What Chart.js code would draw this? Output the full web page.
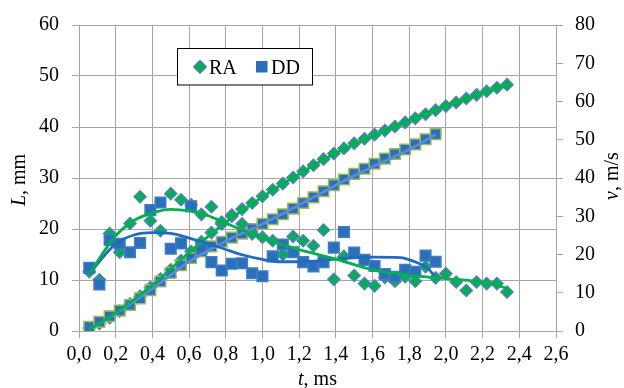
<!DOCTYPE html>
<html>
<head>
<meta charset="utf-8">
<script src="https://cdn.jsdelivr.net/npm/chart.js@4.4.1/dist/chart.umd.min.js"></script>
<style>
html,body{margin:0;padding:0;background:#fff}
#wrap{width:624px;height:388px;position:relative}
</style>
</head>
<body>
<div id="wrap"><canvas id="chartCanvas"></canvas></div>
<script>
// time stamps, ms
const tRA = [0.056,0.111,0.167,0.222,0.278,0.333,0.389,0.444,0.500,0.556,0.611,0.667,0.722,0.778,0.833,0.889,0.944,1.000,1.056,1.111,1.167,1.222,1.278,1.333,1.389,1.444,1.500,1.556,1.611,1.667,1.722,1.778,1.833,1.889,1.944,2.000,2.056,2.111,2.167,2.222,2.278,2.333];
const tDD = [0.056,0.111,0.167,0.222,0.278,0.333,0.389,0.444,0.500,0.556,0.611,0.667,0.722,0.778,0.833,0.889,0.944,1.000,1.056,1.111,1.167,1.222,1.278,1.333,1.389,1.444,1.500,1.556,1.611,1.667,1.722,1.778,1.833,1.889,1.944];

// L, mm
const lenRA = [0.6,1.5,2.6,3.9,5.3,6.8,8.5,10.2,12.0,13.8,15.6,17.5,19.3,21.0,22.5,23.9,25.1,26.4,27.7,28.9,30.1,31.3,32.5,33.7,34.8,35.8,36.8,37.7,38.5,39.3,40.1,40.9,41.7,42.5,43.3,44.1,44.8,45.6,46.3,47.0,47.7,48.3];
const lenDD = [0.8,1.8,2.9,4.0,5.1,6.4,8.0,9.7,11.4,12.9,14.3,15.6,16.6,17.5,18.3,19.1,20.0,21.0,21.9,22.9,24.0,25.1,26.2,27.4,28.6,29.7,30.8,31.8,32.8,33.8,34.7,35.6,36.6,37.6,38.6];

// v, m/s
const velRA = [15.5,13.4,25.5,20.6,28.1,35.1,28.8,26.2,35.9,34.3,33.0,30.5,32.5,28.5,30.3,28.0,25.4,24.5,23.6,20.0,24.7,23.6,22.3,26.4,13.5,19.5,14.5,12.4,11.8,14.0,13.0,14.2,13.0,16.8,13.9,15.0,12.8,10.6,12.8,12.4,12.4,10.2];
const velDD = [16.5,12.2,23.8,22.8,20.6,23.0,31.6,33.6,21.5,22.9,32.6,21.5,18.0,15.8,17.6,17.7,15.1,14.3,19.5,22.6,20.6,18.0,16.9,18.0,21.8,25.9,20.5,18.6,17.0,14.9,14.2,16.0,15.5,19.7,18.1];

// trend lines
const trendLenRA_t = [0.056,0.2,0.4,0.6,0.8,1.0,1.2,1.4,1.6,1.8,2.0,2.2,2.333];
const trendLenRA = [0.3,3.6,9.0,15.4,21.3,26.3,30.8,34.9,38.2,41.3,44.2,46.6,48.2];
const trendLenDD_t = [0.056,0.2,0.4,0.6,0.8,1.0,1.2,1.4,1.6,1.8,1.944];
const trendLenDD = [0.3,3.4,8.3,13.6,17.6,21.0,24.7,28.6,32.2,35.6,38.5];
const trendVelRA_t = [0.056,0.2,0.3,0.4,0.5,0.6,0.7,0.8,0.9,1.0,1.1,1.2,1.4,1.6,1.8,2.0,2.2,2.333];
const trendVelRA = [15.0,24.9,28.9,30.9,31.8,31.4,30.2,28.2,26.2,24.3,22.7,21.3,18.8,16.0,14.6,13.7,12.8,11.2];
const trendVelDD_t = [0.056,0.2,0.3,0.4,0.5,0.6,0.7,0.8,0.9,1.0,1.1,1.2,1.4,1.6,1.75,1.83,1.9,1.944];
const trendVelDD = [15.0,22.8,25.1,25.7,25.5,24.3,22.9,21.3,19.8,18.7,18.1,18.1,18.8,19.3,19.2,18.1,16.4,14.0];

const xTicks = {min:0, max:2.6, step:0.2};

const GREEN = '#00B050', BLUE = '#2B6EB9', EDGE = '#4F81BD', LIME = '#9BBB59';
const GRID = '#A6A6A6';
const FONT = 'Liberation Serif';

function pts(xs, ys){ return xs.map((x,i)=>({x:x, y:ys[i]})); }

function markerSet(label, xs, ys, axis, style, fill, edge, r, order){
	return {label:label, data:pts(xs,ys), yAxisID:axis, showLine:false,
		pointStyle:style, pointRadius:r, pointHoverRadius:r,
		backgroundColor:fill, borderColor:edge, pointBorderWidth:1.5, order:order};
}
function trendSet(xs, ys, axis, color, order){
	return {label:'', data:pts(xs,ys), yAxisID:axis, showLine:true, pointRadius:0,
		borderColor:color, borderWidth:2.8, cubicInterpolationMode:'monotone',
		fill:false, order:order};
}

function drawTitle(ctx, parts, x, y, rot){
	ctx.save();
	ctx.translate(x,y);
	ctx.rotate(rot);
	ctx.fillStyle = '#000';
	ctx.textBaseline = 'middle';
	let w = 0;
	parts.forEach(p=>{ ctx.font=(p[1]?'italic ':'')+'20px "'+FONT+'"'; w+=ctx.measureText(p[0]).width; });
	let cx = -w/2;
	parts.forEach(p=>{
		ctx.font=(p[1]?'italic ':'')+'20px "'+FONT+'"';
		ctx.textAlign='left';
		ctx.fillText(p[0], cx, 0);
		cx += ctx.measureText(p[0]).width;
	});
	ctx.restore();
}

const extrasPlugin = {
	id:'extras',
	afterDraw(chart){
		const ctx = chart.ctx, a = chart.chartArea;
		const midY = (a.top+a.bottom)/2;
		drawTitle(ctx, [['L',true],[', mm',false]], 20, midY+2, -Math.PI/2);
		drawTitle(ctx, [['v',true],[', m/s',false]], 613, midY-2, -Math.PI/2);
		drawTitle(ctx, [['t',true],[', ms',false]], (a.left+a.right)/2, 380, 0);

		// legend box
		ctx.save();
		ctx.fillStyle = '#fff';
		ctx.fillRect(177.5, 48.5, 135, 36.5);
		ctx.strokeStyle = '#000';
		ctx.lineWidth = 1;
		ctx.strokeRect(177.5, 48.5, 135, 36.5);
		// RA diamond
		ctx.beginPath();
		ctx.moveTo(200, 60.5); ctx.lineTo(206.3, 66.8); ctx.lineTo(200, 73.1); ctx.lineTo(193.7, 66.8); ctx.closePath();
		ctx.fillStyle = GREEN; ctx.fill();
		ctx.strokeStyle = EDGE; ctx.lineWidth = 1.5; ctx.stroke();
		// DD square
		ctx.fillStyle = BLUE;
		ctx.fillRect(256, 61, 11.5, 11.5);
		ctx.fillStyle = '#000';
		ctx.font = '20px "'+FONT+'"';
		ctx.textBaseline = 'alphabetic';
		ctx.textAlign = 'left';
		ctx.fillText('RA', 209, 73.5);
		ctx.fillText('DD', 271, 73.5);
		ctx.restore();
	}
};

const tickFont = {family:FONT, size:20};

new Chart(document.getElementById('chartCanvas'), {
	type:'scatter',
	data:{
		datasets:[
			trendSet(trendVelRA_t, trendVelRA, 'yV', GREEN, 0),
			trendSet(trendVelDD_t, trendVelDD, 'yV', '#1F6BBE', 0),
			trendSet(trendLenRA_t, trendLenRA, 'yL', GREEN, 0),
			trendSet(trendLenDD_t, trendLenDD, 'yL', '#5B8BD2', 0),
			markerSet('DD', tDD, velDD, 'yV', 'rect', BLUE, '#3F7DC4', 7.5, 2),
			markerSet('RA', tRA, velRA, 'yV', 'rectRot', GREEN, EDGE, 6, 3),
			markerSet('DD', tDD, lenDD, 'yL', 'rect', BLUE, LIME, 7.5, 4),
			markerSet('RA', tRA, lenRA, 'yL', 'rectRot', GREEN, EDGE, 6, 5)
		]
	},
	options:{
		responsive:true,
		maintainAspectRatio:false,
		animation:false,
		layout:{padding:{top:23,left:0,right:0,bottom:0}},
		plugins:{legend:{display:false}, tooltip:{enabled:false}},
		scales:{
			x:{type:'linear', position:'bottom', min:xTicks.min, max:xTicks.max,
				ticks:{stepSize:xTicks.step, color:'#000', font:tickFont, padding:5, maxRotation:0, autoSkip:false,
					callback:v=>v.toFixed(1).replace('.',',')},
				grid:{color:GRID, lineWidth:1, tickLength:7},
				border:{color:GRID},
				afterFit(s){ s.height = 57; }
			},
			yL:{type:'linear', position:'left', min:0, max:60,
				ticks:{stepSize:10, color:'#000', font:tickFont, padding:13},
				grid:{color:GRID, lineWidth:1, tickLength:7},
				border:{color:GRID},
				afterFit(s){ s.width = 79; }
			},
			yV:{type:'linear', position:'right', min:0, max:80,
				ticks:{stepSize:10, color:'#000', font:tickFont, padding:12},
				grid:{drawOnChartArea:false, color:GRID, lineWidth:1, tickLength:7},
				border:{color:GRID},
				afterFit(s){ s.width = 68; }
			}
		}
	},
	plugins:[extrasPlugin]
});
</script>
</body>
</html>
